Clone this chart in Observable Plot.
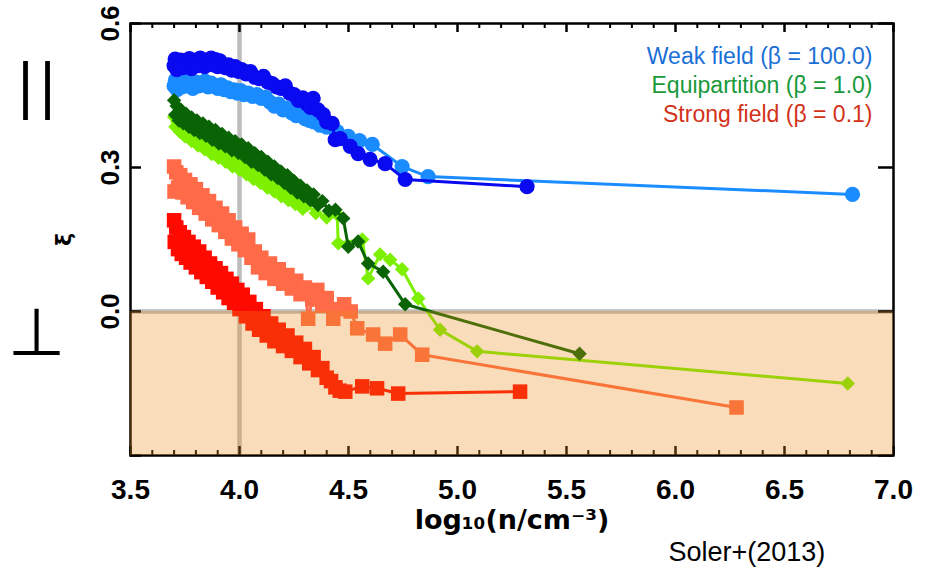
<!DOCTYPE html>
<html><head><meta charset="utf-8">
<script src="https://cdn.jsdelivr.net/npm/d3@7"></script>
<script src="https://cdn.jsdelivr.net/npm/@observablehq/plot@0.6"></script>
<style>body{margin:0;background:#fff} svg{display:block}</style>
</head><body><div id="chart"></div>
<script>
// ---- data ----
const xDomain = [3.5, 7.0];
const yDomain = [-0.3, 0.6];
const xMajor = [3.5, 4.0, 4.5, 5.0, 5.5, 6.0, 6.5, 7.0];
const xMinor = [3.6,3.7,3.8,3.9,4.1,4.2,4.3,4.4,4.6,4.7,4.8,4.9,5.1,5.2,5.3,5.4,5.6,5.7,5.8,5.9,6.1,6.2,6.3,6.4,6.6,6.7,6.8,6.9];
const yMajor = [-0.3, 0.0, 0.3, 0.6];
const yLabels = [0.0, 0.3, 0.6];
const refX = [4.0];
const refY = [0.0];
const legendLabels = ["Weak field (β = 100.0)", "Equipartition (β = 1.0)", "Strong field (β = 0.1)"];

const weakDark = [[3.700,0.512],[3.705,0.526],[3.712,0.504],[3.720,0.520],[3.730,0.524],[3.740,0.508],[3.750,0.522],[3.760,0.514],[3.770,0.527],[3.780,0.506],[3.790,0.518],[3.800,0.524],[3.810,0.512],[3.820,0.528],[3.830,0.520],[3.840,0.510],[3.850,0.524],[3.860,0.518],[3.870,0.528],[3.880,0.514],[3.890,0.525],[3.900,0.510],[3.910,0.522],[3.920,0.516],[3.935,0.508],[3.950,0.514],[3.965,0.503],[3.980,0.510],[3.995,0.500],[4.010,0.504],[4.030,0.495],[4.050,0.500],[4.070,0.488],[4.090,0.485],[4.110,0.490],[4.130,0.478],[4.150,0.475],[4.170,0.468],[4.190,0.465],[4.210,0.470],[4.230,0.455],[4.250,0.452],[4.270,0.440],[4.290,0.445],[4.310,0.432],[4.325,0.425],[4.338,0.444],[4.360,0.420],[4.384,0.410],[4.400,0.395],[4.425,0.392],[4.439,0.358],[4.462,0.360],[4.508,0.344],[4.544,0.329],[4.599,0.317],[4.668,0.308],[4.760,0.275],[5.319,0.260]];
const weakLight = [[3.700,0.470],[3.706,0.482],[3.714,0.462],[3.724,0.475],[3.736,0.468],[3.748,0.480],[3.760,0.470],[3.772,0.476],[3.786,0.465],[3.800,0.478],[3.814,0.470],[3.828,0.474],[3.842,0.480],[3.856,0.468],[3.870,0.476],[3.885,0.470],[3.900,0.465],[3.915,0.472],[3.930,0.462],[3.945,0.466],[3.960,0.458],[3.975,0.462],[3.990,0.455],[4.005,0.460],[4.020,0.452],[4.040,0.455],[4.060,0.448],[4.080,0.452],[4.100,0.444],[4.120,0.446],[4.140,0.436],[4.160,0.428],[4.180,0.432],[4.200,0.420],[4.220,0.424],[4.240,0.414],[4.260,0.408],[4.280,0.412],[4.300,0.402],[4.320,0.398],[4.340,0.395],[4.370,0.388],[4.400,0.384],[4.448,0.375],[4.499,0.365],[4.550,0.356],[4.609,0.348],[4.746,0.302],[4.865,0.281],[6.812,0.244]];
const equiDark = [[3.700,0.440],[3.705,0.410],[3.712,0.428],[3.722,0.398],[3.732,0.420],[3.742,0.392],[3.755,0.412],[3.768,0.385],[3.780,0.404],[3.792,0.378],[3.805,0.398],[3.818,0.372],[3.832,0.392],[3.846,0.366],[3.860,0.385],[3.875,0.358],[3.890,0.378],[3.905,0.350],[3.920,0.370],[3.935,0.344],[3.950,0.362],[3.965,0.336],[3.980,0.355],[3.995,0.330],[4.010,0.348],[4.025,0.322],[4.040,0.340],[4.055,0.312],[4.070,0.330],[4.085,0.305],[4.100,0.322],[4.115,0.296],[4.130,0.312],[4.145,0.286],[4.160,0.302],[4.175,0.278],[4.190,0.292],[4.205,0.268],[4.220,0.284],[4.235,0.258],[4.250,0.272],[4.265,0.248],[4.280,0.262],[4.295,0.240],[4.310,0.252],[4.325,0.232],[4.340,0.244],[4.360,0.222],[4.380,0.230],[4.410,0.210],[4.440,0.212],[4.476,0.194],[4.499,0.135],[4.544,0.146],[4.590,0.100],[4.659,0.083],[4.760,0.015],[5.560,-0.088]];
const equiLight = [[3.700,0.405],[3.706,0.385],[3.715,0.395],[3.726,0.375],[3.738,0.385],[3.750,0.365],[3.765,0.375],[3.780,0.355],[3.795,0.366],[3.810,0.346],[3.825,0.357],[3.840,0.338],[3.856,0.348],[3.872,0.328],[3.888,0.340],[3.904,0.320],[3.920,0.332],[3.936,0.312],[3.952,0.322],[3.968,0.302],[3.984,0.314],[4.000,0.295],[4.016,0.306],[4.032,0.286],[4.048,0.296],[4.064,0.276],[4.080,0.288],[4.096,0.268],[4.112,0.278],[4.128,0.258],[4.144,0.270],[4.160,0.250],[4.176,0.260],[4.192,0.240],[4.208,0.252],[4.224,0.232],[4.240,0.242],[4.256,0.224],[4.272,0.234],[4.290,0.214],[4.311,0.222],[4.350,0.205],[4.400,0.196],[4.448,0.202],[4.453,0.142],[4.563,0.150],[4.590,0.069],[4.645,0.119],[4.691,0.108],[4.746,0.088],[4.820,0.027],[4.920,-0.038],[5.090,-0.083],[6.790,-0.150]];
const strongDark = [[3.700,0.190],[3.703,0.145],[3.710,0.175],[3.718,0.130],[3.726,0.165],[3.735,0.120],[3.745,0.155],[3.755,0.112],[3.766,0.145],[3.776,0.102],[3.790,0.135],[3.800,0.092],[3.815,0.125],[3.825,0.082],[3.840,0.112],[3.850,0.072],[3.865,0.100],[3.875,0.062],[3.890,0.090],[3.900,0.050],[3.915,0.080],[3.925,0.040],[3.940,0.068],[3.950,0.028],[3.965,0.058],[3.975,0.018],[3.990,0.045],[4.000,0.005],[4.015,0.035],[4.030,-0.010],[4.045,0.020],[4.060,-0.025],[4.075,0.005],[4.090,-0.038],[4.110,-0.010],[4.125,-0.050],[4.145,-0.025],[4.160,-0.062],[4.180,-0.038],[4.200,-0.072],[4.220,-0.050],[4.240,-0.082],[4.260,-0.065],[4.280,-0.095],[4.300,-0.078],[4.320,-0.108],[4.340,-0.095],[4.360,-0.122],[4.380,-0.118],[4.400,-0.138],[4.420,-0.145],[4.440,-0.158],[4.460,-0.165],[4.485,-0.167],[4.563,-0.156],[4.631,-0.160],[4.728,-0.171],[5.287,-0.167]];
const strongLight = [[3.700,0.302],[3.702,0.250],[3.710,0.290],[3.718,0.258],[3.728,0.284],[3.738,0.248],[3.750,0.274],[3.762,0.238],[3.775,0.265],[3.788,0.228],[3.800,0.255],[3.815,0.216],[3.830,0.242],[3.845,0.204],[3.860,0.230],[3.875,0.192],[3.890,0.216],[3.905,0.180],[3.920,0.204],[3.935,0.166],[3.950,0.190],[3.965,0.152],[3.980,0.175],[3.995,0.140],[4.010,0.162],[4.025,0.128],[4.040,0.150],[4.055,0.112],[4.070,0.125],[4.085,0.092],[4.100,0.112],[4.120,0.080],[4.140,0.100],[4.160,0.068],[4.180,0.088],[4.200,0.058],[4.220,0.076],[4.240,0.048],[4.260,0.064],[4.280,0.036],[4.300,0.050],[4.315,-0.015],[4.335,0.025],[4.357,0.045],[4.380,0.012],[4.400,0.028],[4.430,-0.015],[4.450,0.005],[4.480,0.015],[4.510,0.000],[4.540,-0.035],[4.613,-0.048],[4.668,-0.067],[4.737,-0.048],[4.838,-0.090],[6.280,-0.200]];

// ---- styling / plot ----
const series = [
  {data: weakLight, color: "#1a8cff", symbol: "circle", r: 7.6},
  {data: weakDark, color: "#0a0af0", symbol: "circle", r: 7.6},
  {data: equiLight, color: "#7cf000", symbol: "diamond2", r: 6.5},
  {data: equiDark, color: "#0a6405", symbol: "diamond2", r: 6.5},
  {data: strongLight, color: "#ff6a48", symbol: "square", r: 8.2},
  {data: strongDark, color: "#ff0a00", symbol: "square", r: 8.2}
];
const FW = 763, FH = 432;
const tickFont = "Liberation Sans, Arial, sans-serif";
const dataMarks = series.flatMap(s => [
  Plot.line(s.data, {x: d => d[0], y: d => d[1], stroke: s.color, strokeWidth: 3}),
  Plot.dot(s.data, {x: d => d[0], y: d => d[1], fill: s.color, stroke: "none", r: s.r, symbol: s.symbol})
]);
const shade = [{x1: xDomain[0], x2: xDomain[1], y1: yDomain[0], y2: 0}];
const legendColors = ["#1a6fd6", "#18993a", "#d2321a"];
const legendDy = [40, 69, 98];

const chart = Plot.plot({
  width: 928, height: 568,
  marginLeft: 130, marginRight: 35, marginTop: 23, marginBottom: 113,
  x: {domain: xDomain, axis: null},
  y: {domain: yDomain, axis: null},
  style: {background: "white", overflow: "visible"},
  marks: [
    Plot.ruleX(refX, {x: d => d, stroke: "#bdbdbd", strokeWidth: 4.5}),
    Plot.ruleY(refY, {y: d => d, stroke: "#bdbdbd", strokeWidth: 4.5}),
    ...dataMarks,
    Plot.frame({stroke: "black", strokeWidth: 2.5}),
    Plot.ruleX(xMajor, {x: d => d, insetTop: FH - 9, stroke: "black", strokeWidth: 2.5}),
    Plot.ruleX(xMinor, {x: d => d, insetTop: FH - 5, stroke: "black", strokeWidth: 2}),
    Plot.ruleX(xMajor, {x: d => d, insetBottom: FH - 9, stroke: "black", strokeWidth: 2.5}),
    Plot.ruleX(xMinor, {x: d => d, insetBottom: FH - 5, stroke: "black", strokeWidth: 2}),
    Plot.ruleY(yMajor, {y: d => d, insetRight: FW - 11, stroke: "black", strokeWidth: 2.5}),
    Plot.ruleY(yMajor, {y: d => d, insetLeft: FW - 15, stroke: "black", strokeWidth: 2.5}),
    Plot.rect(shade, {x1: d => d.x1, x2: d => d.x2, y1: d => d.y1, y2: d => d.y2, fill: "rgb(235,138,22)", fillOpacity: 0.3}),
    Plot.text(xMajor, {x: d => d, frameAnchor: "bottom", dy: 35, lineAnchor: "middle", textAnchor: "middle", text: d => d.toFixed(1), fontSize: 28, fontWeight: "bold", fontFamily: tickFont, fill: "black"}),
    Plot.text(yLabels, {y: d => d, frameAnchor: "left", dx: -20, rotate: -90, lineAnchor: "middle", textAnchor: "middle", text: d => d.toFixed(1), fontSize: 26, fontWeight: "bold", fontFamily: tickFont, fill: "black"}),
    Plot.text(["log₁₀(n/cm⁻³)"], {frameAnchor: "bottom", dy: 73, lineAnchor: "bottom", textAnchor: "middle", text: d => d, fontSize: 27, fontWeight: "bold", fontFamily: "DejaVu Sans, sans-serif", fill: "black"}),
    Plot.text(["ξ"], {frameAnchor: "left", dx: -67, rotate: -90, lineAnchor: "middle", textAnchor: "middle", text: d => d, fontSize: 22, fontWeight: "bold", fontFamily: "DejaVu Sans, sans-serif", fill: "black"}),
    Plot.text(["|"], {frameAnchor: "top-left", dx: -105, dy: 64, lineAnchor: "middle", textAnchor: "middle", text: d => d, fontSize: 58, fontFamily: "DejaVu Sans, sans-serif", fill: "black"}),
    Plot.text(["|"], {frameAnchor: "top-left", dx: -83, dy: 64, lineAnchor: "middle", textAnchor: "middle", text: d => d, fontSize: 58, fontFamily: "DejaVu Sans, sans-serif", fill: "black"}),
    Plot.text(["⊥"], {frameAnchor: "left", dx: -94, dy: 94, lineAnchor: "middle", textAnchor: "middle", text: d => d, fontSize: 66, fontFamily: "DejaVu Sans, sans-serif", fill: "black"}),
    ...legendLabels.map((label, i) => Plot.text([label], {frameAnchor: "top-right", dx: -21, dy: legendDy[i], text: d => d, fontSize: 23, fontFamily: tickFont, textAnchor: "end", lineAnchor: "bottom", fill: legendColors[i]})),
    Plot.text(["Soler+(2013)"], {frameAnchor: "bottom-left", dx: 538, dy: 105, text: d => d, fontSize: 27, fontFamily: tickFont, textAnchor: "start", lineAnchor: "bottom", fill: "black"})
  ]
});
document.getElementById("chart").appendChild(chart);
</script>
</body></html>
